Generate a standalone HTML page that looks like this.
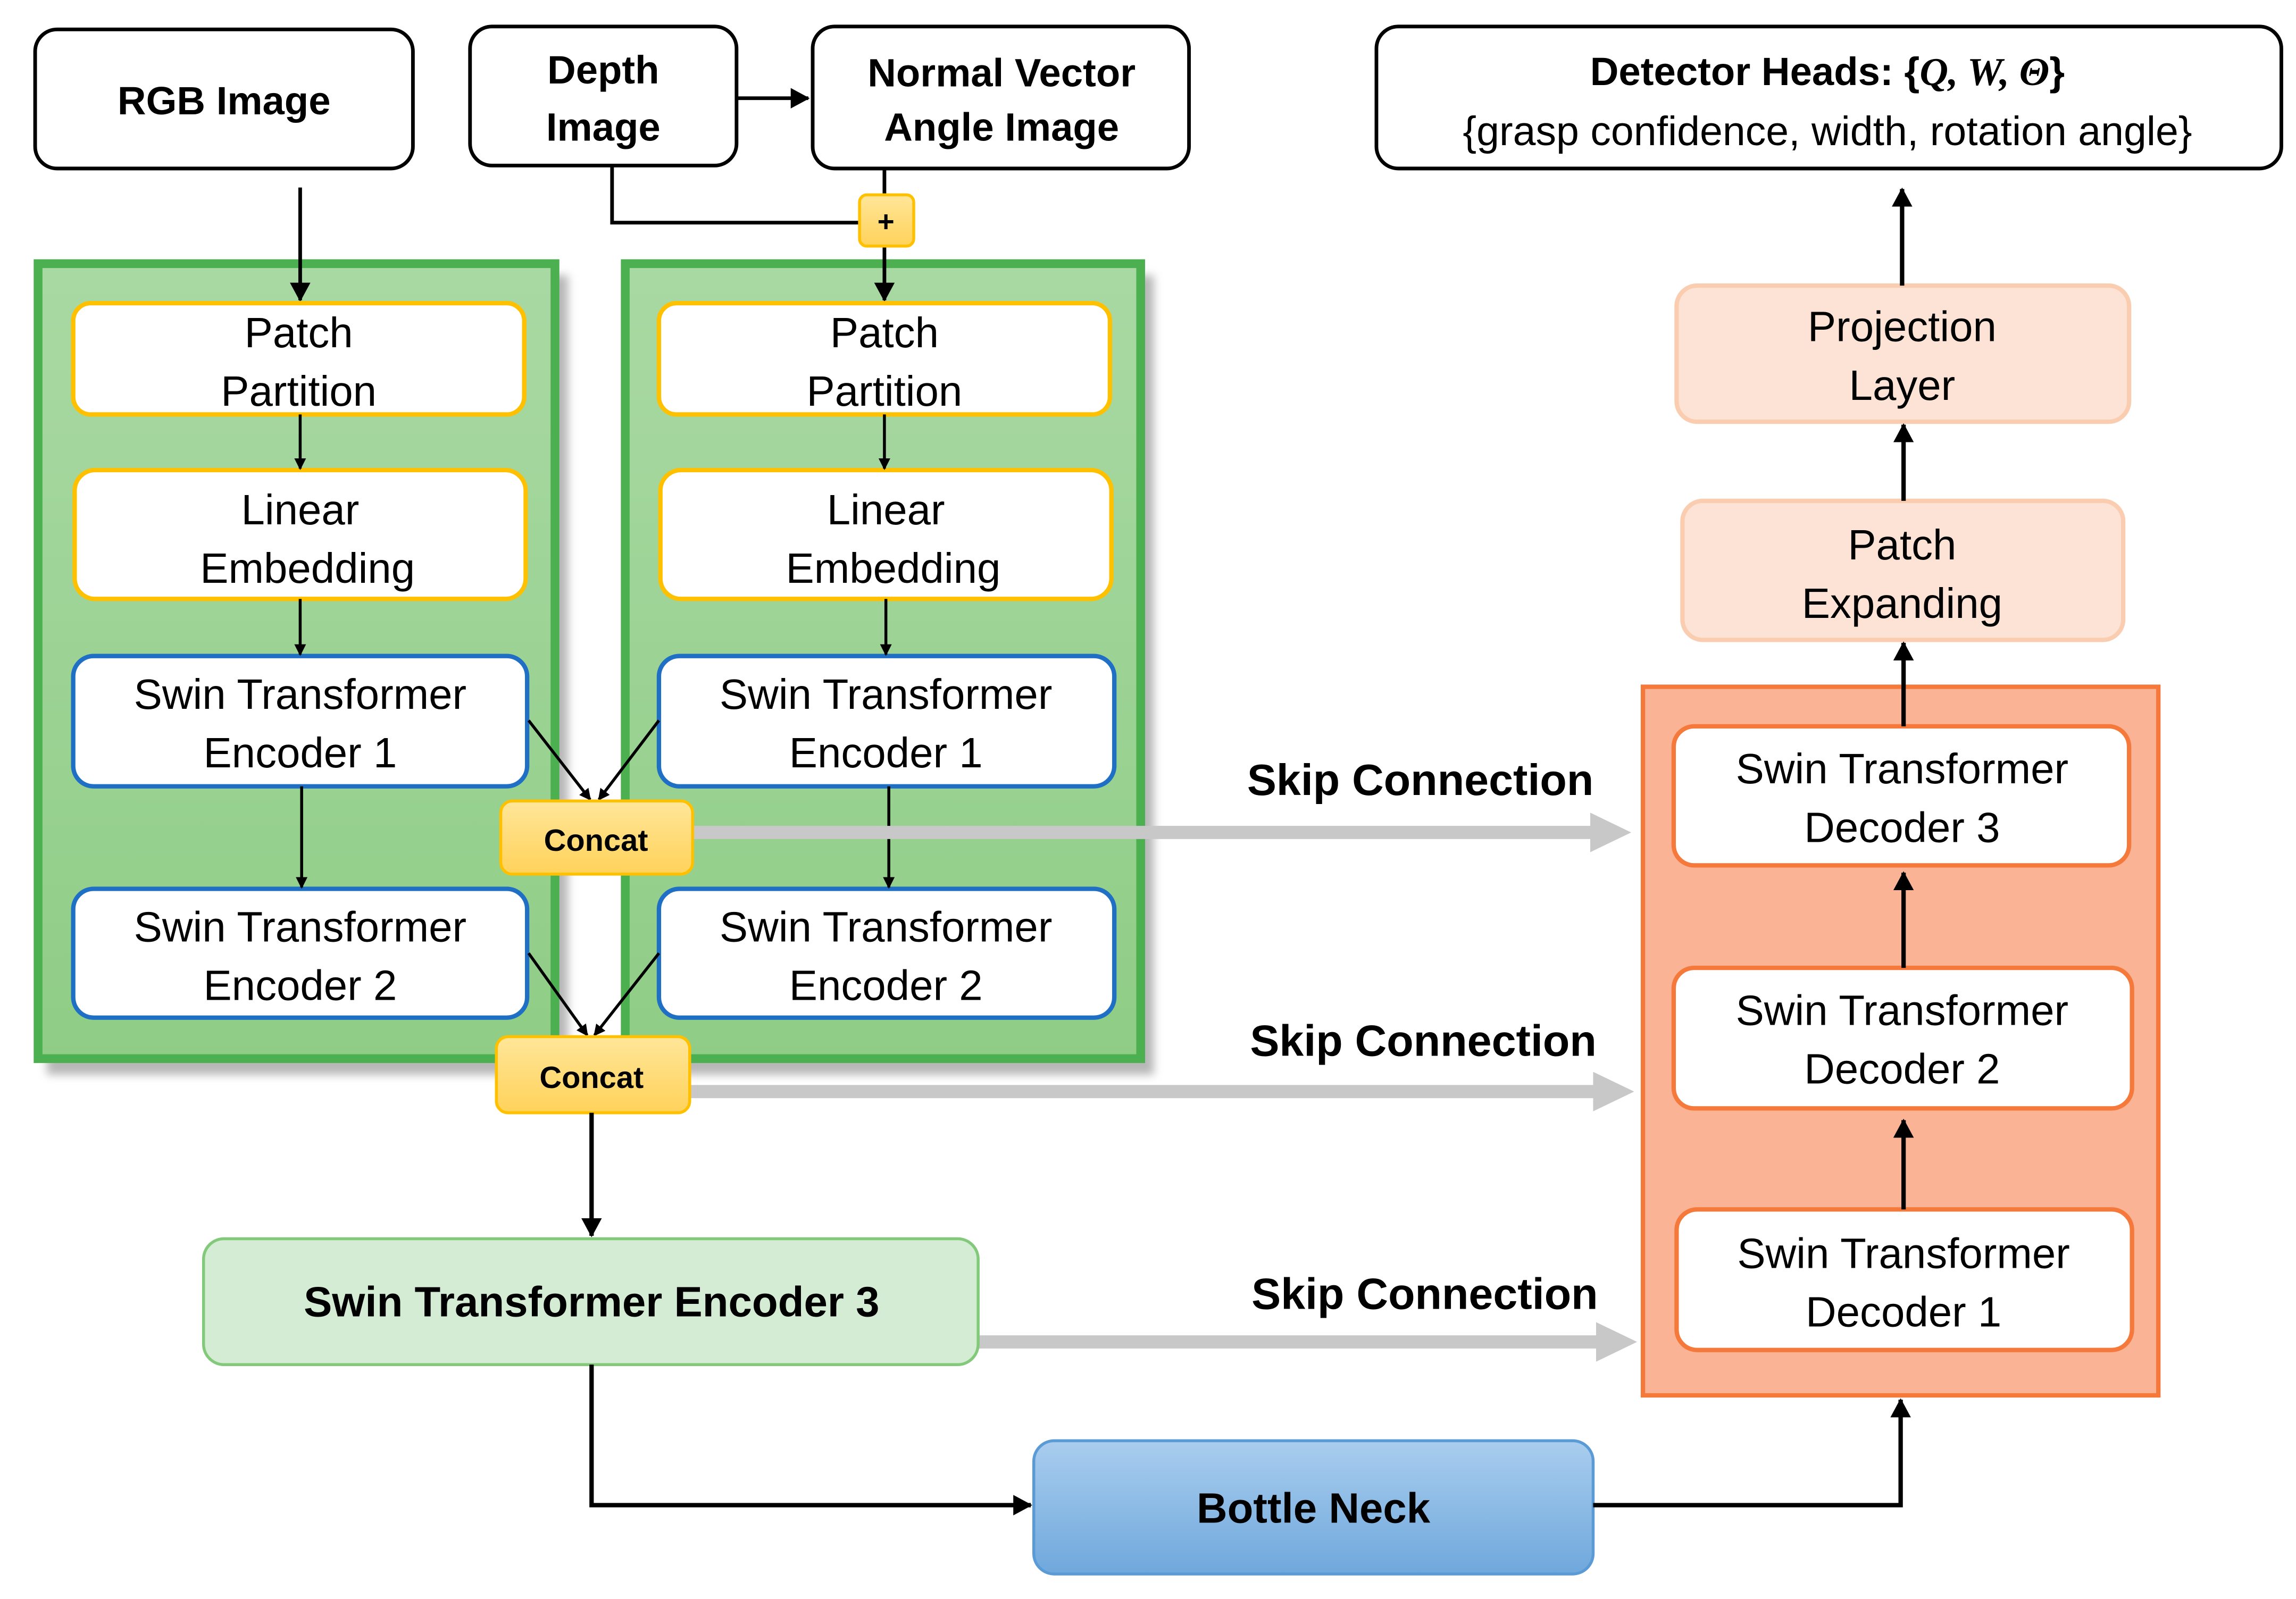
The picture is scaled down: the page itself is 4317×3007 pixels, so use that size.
<!DOCTYPE html>
<html><head><meta charset="utf-8"><style>
html,body{margin:0;padding:0;background:#fff;}
svg{display:block;}
text{font-family:"Liberation Sans","DejaVu Sans",sans-serif;}
</style></head><body>
<svg width="4317" height="3007" viewBox="0 0 1568 1092" xmlns="http://www.w3.org/2000/svg">
<defs>
<marker id="a" markerWidth="8" markerHeight="8" refX="7" refY="4" orient="auto" markerUnits="userSpaceOnUse"><path d="M0,0 L8,4 L0,8 z" fill="#000"/></marker>
<marker id="a2" markerWidth="14" markerHeight="14" refX="12" refY="7" orient="auto" markerUnits="userSpaceOnUse"><path d="M0,0 L13,7 L0,14 z" fill="#000"/></marker>
<linearGradient id="gg" x1="0" y1="0" x2="0" y2="1"><stop offset="0" stop-color="#a9d9a3"/><stop offset="1" stop-color="#8fcd86"/></linearGradient>
<linearGradient id="bg" x1="0" y1="0" x2="0" y2="1"><stop offset="0" stop-color="#a9cdee"/><stop offset="1" stop-color="#6fa8dc"/></linearGradient>
<linearGradient id="cg" x1="0" y1="0" x2="0" y2="1"><stop offset="0" stop-color="#ffe699"/><stop offset="1" stop-color="#ffd25a"/></linearGradient>
<filter id="bl"><feGaussianBlur stdDeviation="3"/></filter>
</defs>
<g font-size="27" font-weight="bold" text-anchor="middle" fill="#000">
<rect x="24" y="20" width="258" height="95" rx="15" fill="#fff" stroke="#000" stroke-width="2.5"/>
<text x="153" y="78">RGB Image</text>
<rect x="321" y="18" width="182" height="95" rx="15" fill="#fff" stroke="#000" stroke-width="2.5"/>
<text x="412" y="57">Depth</text><text x="412" y="96">Image</text>
<rect x="555" y="18" width="257" height="97" rx="15" fill="#fff" stroke="#000" stroke-width="2.5"/>
<text x="684" y="59">Normal Vector</text><text x="684" y="96">Angle Image</text>
<rect x="940" y="18" width="618" height="97" rx="15" fill="#fff" stroke="#000" stroke-width="2.5"/>
<text x="1248" y="58">Detector Heads: {<tspan font-family="Liberation Serif" font-style="italic">Q, W, Θ</tspan>}</text>
<text x="1248" y="99" font-weight="normal" font-size="28">{grasp confidence, width, rotation angle}</text>
</g>
<!-- green panels -->
<rect x="32" y="188" width="356" height="546" fill="#999" opacity="0.7" filter="url(#bl)"/>
<rect x="433" y="188" width="355" height="546" fill="#999" opacity="0.7" filter="url(#bl)"/>
<rect x="26" y="180" width="353" height="543" fill="url(#gg)" stroke="#4caf50" stroke-width="6"/>
<rect x="427" y="180" width="352" height="543" fill="url(#gg)" stroke="#4caf50" stroke-width="6"/>
<g stroke="#000" stroke-width="2.5" fill="none">
<line x1="503" y1="67" x2="552" y2="67" marker-end="url(#a2)"/>
<polyline points="418,113 418,152 588,152"/>
<line x1="604" y1="115" x2="604" y2="134"/>
<line x1="604" y1="168" x2="604" y2="205" marker-end="url(#a2)"/>
<line x1="205" y1="128" x2="205" y2="205" marker-end="url(#a2)"/>
</g>
<rect x="587" y="133" width="37" height="35" rx="5" fill="url(#cg)" stroke="#ffc000" stroke-width="2"/>
<text x="605" y="158" font-size="20" font-weight="bold" text-anchor="middle">+</text>
<g font-size="29" text-anchor="middle" fill="#000">
<rect x="50" y="207" width="308" height="76" rx="12" fill="#fff" stroke="#ffc000" stroke-width="3"/>
<text x="204" y="237">Patch</text><text x="204" y="277">Partition</text>
<rect x="450" y="207" width="308" height="76" rx="12" fill="#fff" stroke="#ffc000" stroke-width="3"/>
<text x="604" y="237">Patch</text><text x="604" y="277">Partition</text>
<rect x="51" y="321" width="308" height="88" rx="14" fill="#fff" stroke="#ffc000" stroke-width="3"/>
<text x="205" y="358">Linear</text><text x="210" y="398">Embedding</text>
<rect x="451" y="321" width="308" height="88" rx="14" fill="#fff" stroke="#ffc000" stroke-width="3"/>
<text x="605" y="358">Linear</text><text x="610" y="398">Embedding</text>
<rect x="50" y="448" width="310" height="89" rx="14" fill="#fff" stroke="#1f6fc4" stroke-width="3"/>
<text x="205" y="484">Swin Transformer</text><text x="205" y="524">Encoder 1</text>
<rect x="450" y="448" width="311" height="89" rx="14" fill="#fff" stroke="#1f6fc4" stroke-width="3"/>
<text x="605" y="484">Swin Transformer</text><text x="605" y="524">Encoder 1</text>
<rect x="50" y="607" width="310" height="88" rx="14" fill="#fff" stroke="#1f6fc4" stroke-width="3"/>
<text x="205" y="643">Swin Transformer</text><text x="205" y="683">Encoder 2</text>
<rect x="450" y="607" width="311" height="88" rx="14" fill="#fff" stroke="#1f6fc4" stroke-width="3"/>
<text x="605" y="643">Swin Transformer</text><text x="605" y="683">Encoder 2</text>
</g>
<g stroke="#000" stroke-width="2" fill="none">
<line x1="205" y1="283" x2="205" y2="320" marker-end="url(#a)"/>
<line x1="604" y1="283" x2="604" y2="320" marker-end="url(#a)"/>
<line x1="205" y1="409" x2="205" y2="447" marker-end="url(#a)"/>
<line x1="605" y1="409" x2="605" y2="447" marker-end="url(#a)"/>
<line x1="206" y1="537" x2="206" y2="606" marker-end="url(#a)"/>
<line x1="607" y1="537" x2="607" y2="606" marker-end="url(#a)"/>
<line x1="361" y1="492" x2="403" y2="546" marker-end="url(#a)"/>
<line x1="450" y1="492" x2="409" y2="546" marker-end="url(#a)"/>
<line x1="361" y1="651" x2="401" y2="707" marker-end="url(#a)"/>
<line x1="450" y1="651" x2="406" y2="707" marker-end="url(#a)"/>
</g>
<!-- skip arrows -->
<g fill="#c8c8c8">
<rect x="473" y="564" width="615" height="9"/><path d="M1086,555 L1114,568.5 L1086,582 z"/>
<rect x="471" y="741" width="619" height="9"/><path d="M1088,732 L1116,745.5 L1088,759 z"/>
<rect x="668" y="912" width="424" height="9"/><path d="M1090,903 L1118,916.5 L1090,930 z"/>
</g>
<rect x="342" y="547" width="131" height="50" rx="8" fill="url(#cg)" stroke="#ffc000" stroke-width="2"/>
<text x="407" y="581" font-size="21" font-weight="bold" text-anchor="middle">Concat</text>
<rect x="339" y="708" width="132" height="52" rx="8" fill="url(#cg)" stroke="#ffc000" stroke-width="2"/>
<text x="404" y="743" font-size="21" font-weight="bold" text-anchor="middle">Concat</text>
<g font-size="30" font-weight="bold" text-anchor="middle">
<text x="970" y="543">Skip Connection</text>
<text x="972" y="721">Skip Connection</text>
<text x="973" y="894">Skip Connection</text>
</g>
<rect x="139" y="846" width="529" height="86" rx="14" fill="#d5ecd4" stroke="#82c97a" stroke-width="2"/>
<text x="404" y="899" font-size="29" font-weight="bold" text-anchor="middle">Swin Transformer Encoder 3</text>
<rect x="706" y="984" width="382" height="91" rx="14" fill="url(#bg)" stroke="#5b9bd5" stroke-width="2"/>
<text x="897" y="1040" font-size="29" font-weight="bold" text-anchor="middle">Bottle Neck</text>
<g stroke="#000" stroke-width="3" fill="none">
<line x1="404" y1="760" x2="404" y2="844" marker-end="url(#a2)"/>
<polyline points="404,932 404,1028 704,1028" marker-end="url(#a2)"/>
<polyline points="1088,1028 1298,1028 1298,956" marker-end="url(#a2)"/>
</g>
<!-- decoder panel -->
<rect x="1122" y="469" width="352" height="484" fill="#fbb396" stroke="#f4793a" stroke-width="3"/>
<g font-size="29" text-anchor="middle" fill="#000">
<rect x="1143" y="496" width="311" height="95" rx="14" fill="#fff" stroke="#f4793a" stroke-width="3"/>
<text x="1299" y="535">Swin Transformer</text><text x="1299" y="575">Decoder 3</text>
<rect x="1143" y="661" width="313" height="96" rx="14" fill="#fff" stroke="#f4793a" stroke-width="3"/>
<text x="1299" y="700">Swin Transformer</text><text x="1299" y="740">Decoder 2</text>
<rect x="1145" y="826" width="311" height="96" rx="14" fill="#fff" stroke="#f4793a" stroke-width="3"/>
<text x="1300" y="866">Swin Transformer</text><text x="1300" y="906">Decoder 1</text>
<rect x="1149" y="342" width="301" height="95" rx="14" fill="#fde3d5" stroke="#fbcdb0" stroke-width="3"/>
<text x="1299" y="382">Patch</text><text x="1299" y="422">Expanding</text>
<rect x="1145" y="195" width="309" height="93" rx="14" fill="#fde3d5" stroke="#fbcdb0" stroke-width="3"/>
<text x="1299" y="233">Projection</text><text x="1299" y="273">Layer</text>
</g>
<g stroke="#000" stroke-width="3" fill="none">
<line x1="1300" y1="826" x2="1300" y2="765" marker-end="url(#a2)"/>
<line x1="1300" y1="661" x2="1300" y2="596" marker-end="url(#a2)"/>
<line x1="1300" y1="496" x2="1300" y2="439" marker-end="url(#a2)"/>
<line x1="1300" y1="342" x2="1300" y2="290" marker-end="url(#a2)"/>
<line x1="1299" y1="195" x2="1299" y2="129" marker-end="url(#a2)"/>
</g>
</svg>
</body></html>
